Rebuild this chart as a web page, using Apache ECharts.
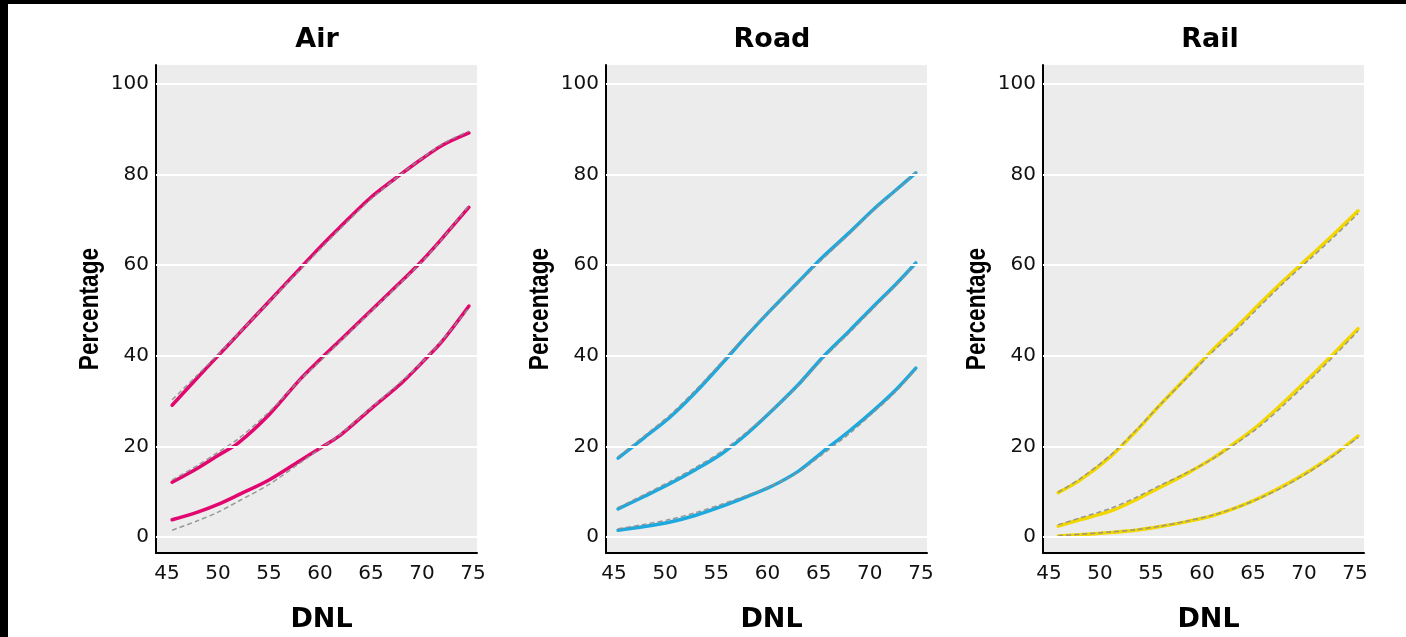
<!DOCTYPE html>
<html>
<head>
<meta charset="utf-8">
<script src="https://cdn.jsdelivr.net/npm/echarts@6/dist/echarts.min.js"></script>
<style>
  html, body { margin: 0; padding: 0; background: #fff; }
  #chart { width: 1406px; height: 637px; position: absolute; left: 0; top: 0; }
  .strip { position: absolute; background: #000; z-index: 5; }
</style>
</head>
<body>
<div id="chart"></div>
<div class="strip" style="left:0;top:0;width:1406px;height:4px;"></div>
<div class="strip" style="left:0;top:0;width:8px;height:637px;"></div>
<script>
// ---- data ----
const panelTitles = ['Air', 'Road', 'Rail'];
const xTickLabels = [45, 50, 55, 60, 65, 70, 75];
const yTickLabels = [0, 20, 40, 60, 80, 100];

const dnlAir  = [45.5, 48, 50, 52, 55, 58, 60, 62, 65, 68, 70, 72, 74.6];
const airHigh = [29.1, 35.2, 40, 44.8, 52, 59.2, 64, 68.5, 75, 80.2, 83.5, 86.5, 89.2];
const airMid  = [12.1, 15.2, 18, 20.8, 27, 34.7, 39.2, 43.5, 50, 56.5, 61, 66, 72.8];
const airLow  = [3.8, 5.5, 7.2, 9.3, 12.6, 16.8, 19.6, 22.5, 28.3, 34, 38.5, 43.3, 51];
const airHighFit = [30.3, 35.8, 40.3, 44.9, 51.9, 58.9, 63.5, 68.1, 74.6, 80.2, 83.6, 86.8, 89.6];
const airMidFit  = [12.6, 15.8, 18.7, 21.7, 27.6, 34.6, 38.8, 43.2, 49.8, 56.3, 60.8, 65.9, 73.2];
const airLowFit  = [1.5, 3.6, 5.5, 7.9, 11.6, 16.3, 19.5, 22.7, 28.5, 34.4, 38.6, 43.5, 50.6];

const dnlRoad  = [45.4, 48, 50.5, 53, 55.6, 58, 60.4, 63, 65.4, 68, 70.3, 72.5, 74.5];
const roadHigh = [17.4, 22, 26.5, 32, 38.4, 44.5, 50.3, 56.3, 61.8, 67.2, 72.2, 76.5, 80.4];
const roadMid  = [6.2, 9, 11.8, 14.9, 18.5, 22.8, 27.8, 33.6, 39.7, 45.5, 50.8, 55.7, 60.5];
const roadLow  = [1.5, 2.3, 3.3, 4.8, 6.8, 8.9, 11.2, 14.5, 18.8, 23.4, 27.8, 32.4, 37.3];
const roadHighFit = [17.7, 22.4, 27, 32.5, 38.8, 44.8, 50.3, 56, 61.4, 66.9, 72, 76.4, 80.5];
const roadMidFit  = [6.5, 9.4, 12.3, 15.4, 19, 23.2, 27.9, 33.4, 39.3, 45.1, 50.4, 55.4, 60.4];
const roadLowFit  = [1.8, 2.8, 3.9, 5.4, 7.3, 9.2, 11.3, 14.3, 18.3, 22.8, 27.4, 32, 37];

const dnlRail  = [45.9, 48, 51, 53.5, 55.9, 58.5, 61, 63.5, 65.7, 68, 70.6, 73, 75.3];
const railHigh = [9.8, 12.5, 17.7, 23.3, 29.2, 35.3, 41.2, 46.6, 51.6, 56.6, 62, 67, 72];
const railMid  = [2.4, 3.8, 5.7, 8.2, 11, 14, 17.3, 21.2, 25, 29.7, 35.3, 40.7, 46];
const railLow  = [0.2, 0.5, 1, 1.5, 2.3, 3.4, 4.7, 6.6, 8.7, 11.3, 14.7, 18.3, 22.3];
const railHighFit = [9.9, 12.8, 18, 23.5, 29.2, 35.1, 40.8, 46, 51, 56.1, 61.4, 66.4, 71.4];
const railMidFit  = [2.7, 4.2, 6.3, 8.7, 11.4, 14.2, 17.2, 20.9, 24.5, 29.1, 34.7, 40.1, 45.5];
const railLowFit  = [0.3, 0.6, 1.1, 1.6, 2.4, 3.5, 4.8, 6.6, 8.6, 11.1, 14.5, 18.1, 22];

// ---- layout / style ----
const panels = [
  { x: dnlAir,  lines: [airHigh, airMid, airLow],   fits: [airHighFit, airMidFit, airLowFit],   color: '#e2076f',
    left: 156, right: 929, xmin: 43.92, xmax: 75.39, titleX: 312, nameX: 91 },
  { x: dnlRoad, lines: [roadHigh, roadMid, roadLow], fits: [roadHighFit, roadMidFit, roadLowFit], color: '#1da8de',
    left: 606, right: 479, xmin: 44.22, xmax: 75.59, titleX: 767, nameX: 541 },
  { x: dnlRail, lines: [railHigh, railMid, railLow], fits: [railHighFit, railMidFit, railLowFit], color: '#f2d600',
    left: 1043, right: 42, xmin: 44.41, xmax: 75.88, titleX: 1205, nameX: 978 }
];

const zip = (xs, ys) => xs.map((x, i) => [x, ys[i]]);
const labelFont = { fontFamily: 'DejaVu Sans', fontSize: 20, color: '#111' };

const grid = [], xAxis = [], yAxis = [], series = [], title = [], graphic = [];
panels.forEach((p, i) => {
  grid.push({ left: p.left, right: p.right, top: 65, bottom: 84, show: true,
              backgroundColor: '#ececec', borderWidth: 0, containLabel: false });
  xAxis.push({ type: 'value', gridIndex: i, min: p.xmin, max: p.xmax,
    axisLine: { show: true, onZero: false, lineStyle: { color: '#000', width: 2 } },
    axisTick: { show: false }, splitLine: { show: false },
    axisLabel: Object.assign({ customValues: xTickLabels, margin: 11 }, labelFont) });
  yAxis.push({ type: 'value', gridIndex: i, min: -3.53, max: 104.2,
    axisLine: { show: true, onZero: false, lineStyle: { color: '#000', width: 2 } },
    axisTick: { show: false }, splitLine: { show: false },
    axisLabel: Object.assign({ customValues: yTickLabels, margin: 7 }, labelFont) });
  // white gridlines
  series.push({ type: 'line', xAxisIndex: i, yAxisIndex: i, data: [], z: 1, silent: true,
    markLine: { silent: true, symbol: 'none', label: { show: false }, animation: false,
      lineStyle: { color: '#ffffff', width: 2, type: 'solid' },
      emphasis: { disabled: true },
      data: yTickLabels.map(v => ({ yAxis: v })) } });
  p.lines.forEach(ys => {
    series.push({ type: 'line', xAxisIndex: i, yAxisIndex: i, data: zip(p.x, ys), z: 3,
      smooth: 0.3, showSymbol: false, silent: true,
      lineStyle: { color: p.color, width: 3.5, cap: 'round' } });
  });
  p.fits.forEach(ys => {
    series.push({ type: 'line', xAxisIndex: i, yAxisIndex: i, data: zip(p.x, ys), z: 4,
      smooth: 0.3, showSymbol: false, silent: true,
      lineStyle: { color: '#8f8f8f', width: 1.5, type: [5, 3], opacity: 0.9 } });
  });
  title.push({ text: panelTitles[i], left: p.titleX, top: 21, textAlign: 'center',
    textStyle: { fontFamily: 'DejaVu Sans', fontWeight: 'bold', fontSize: 27, color: '#000' } });
  title.push({ text: 'DNL', left: (p.left + (1406 - p.right)) / 2, top: 601, textAlign: 'center',
    textStyle: { fontFamily: 'DejaVu Sans', fontWeight: 'bold', fontSize: 27, color: '#000' } });
  graphic.push({ type: 'text', x: p.nameX, y: 309, rotation: Math.PI / 2, scaleX: 0.84,
    style: { text: 'Percentage', fontFamily: 'Liberation Sans', fontWeight: 'bold', fontSize: 27,
             fill: '#000', align: 'center', verticalAlign: 'middle' } });
});

const chart = echarts.init(document.getElementById('chart'), null, { renderer: 'canvas' });
chart.setOption({ animation: false, backgroundColor: '#fff', grid, xAxis, yAxis, series, title, graphic });
</script>
</body>
</html>
